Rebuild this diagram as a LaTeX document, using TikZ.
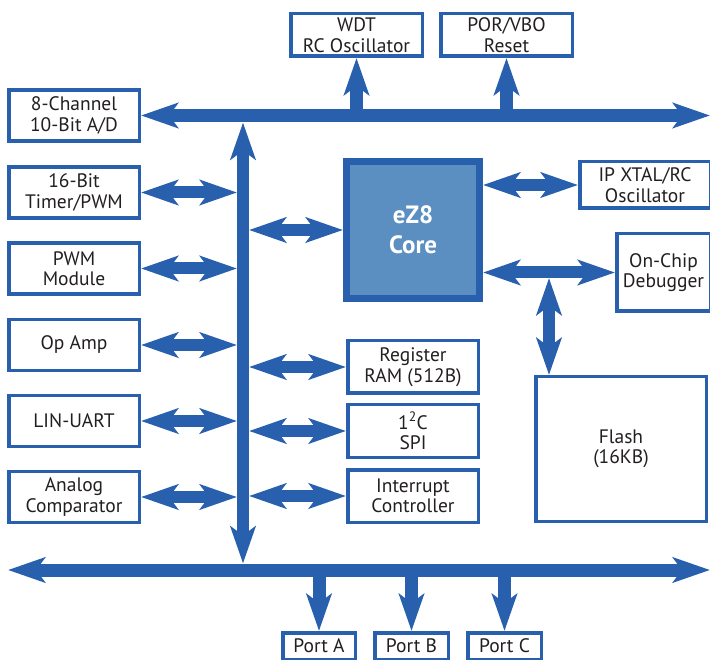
\documentclass[tikz,border=0pt]{standalone}
\usepackage{fontspec}
\setmainfont{PT Sans}
\usetikzlibrary{arrows.meta}
\definecolor{zblue}{RGB}{40,96,174}
\definecolor{corefill}{RGB}{92,143,193}
\definecolor{txt}{RGB}{35,31,32}

\begin{document}
\begin{tikzpicture}[
    x=1pt,y=-1pt,
    every node/.style={font=\fontsize{19.5}{20.5}\selectfont,text=txt},
    blk/.style={draw=zblue,line width=3.5pt,fill=white,align=center,inner sep=0pt,
                minimum width=130.5pt,minimum height=51pt},
    bus/.style={zblue,line width=13pt},
    link/.style={zblue,line width=12pt},
    >={Stealth[length=37pt,width=25pt,inset=9pt]},
]
\useasboundingbox (0,0) rectangle (710,660);
\clip (0,0) rectangle (710,660);

% Peripherals on the left
\node[blk] (ad)    at (74,115.5) {8-Channel\\10-Bit A/D};
\node[blk] (timer) at (74,192.5) {16-Bit\\Timer/PWM};
\node[blk] (pwm)   at (74,268.5) {PWM\\Module};
\node[blk] (opamp) at (74,345)   {Op Amp};
\node[blk] (uart)  at (74,421)   {LIN-UART};
\node[blk] (comp)  at (74,497)   {Analog\\Comparator};

% Top row
\node[blk,minimum width=131.5pt,minimum height=42.5pt] (wdt) at (356.5,35) {WDT\\RC Oscillator};
\node[blk,minimum width=131.5pt,minimum height=42.5pt] (por) at (506.5,35) {POR/VBO\\Reset};

% Core and its neighbours
\node[draw=zblue,line width=7pt,fill=corefill,minimum width=133pt,minimum height=137pt,
      align=center,text=white,font=\fontsize{25}{30}\selectfont\bfseries] (core) at (413,230) {eZ8\\Core};
\node[blk,minimum height=52.5pt] (ram)  at (413,367) {Register\\RAM (512B)};
\node[blk,minimum height=52.5pt] (iic)  at (413,431) {1\textsuperscript{2}C\\SPI};
\node[blk,minimum height=52.5pt] (intc) at (413,496) {Interrupt\\Controller};

% Right column (cut by the page edge)
\node[blk,minimum height=46.5pt] (xtal) at (645,185) {IP XTAL/RC\\Oscillator};
\node[blk,minimum width=93.5pt,minimum height=77.5pt] (ocd) at (663.5,272.5) {On-Chip\\Debugger};
\node[blk,minimum width=170.5pt,minimum height=144.5pt] (flash) at (621,449) {Flash\\(16KB)};

% Ports
\node[blk,minimum width=72.5pt,minimum height=26.5pt] (porta) at (319,646)   {Port A};
\node[blk,minimum width=73.5pt,minimum height=26.5pt] (portb) at (411.5,646) {Port B};
\node[blk,minimum width=73.5pt,minimum height=26.5pt] (portc) at (504.5,646) {Port C};

% Bus end points
\coordinate (tbR) at (710,116);
\coordinate (bbL) at (8,570);
\coordinate (bbR) at (710,570);
\coordinate (vbT) at (243,122.5);
\coordinate (vbB) at (243,563.5);
\coordinate (vbL) at (237,0);
\coordinate (vbR) at (249,0);
\coordinate (ftap) at (549,278);

% --- Buses
\draw[bus,<->] (ad.east) -- (ad.east -| tbR);
\draw[bus,<->] (bbL) -- (bbR);
\draw[link,<->] (vbT) -- (vbB);
\draw[bus,->] (wdt.south |- tbR) -- (wdt.south);
\draw[bus,->] (por.south |- tbR) -- (por.south);
\draw[bus,->] (porta.north |- bbL) -- (porta.north);
\draw[bus,->] (portb.north |- bbL) -- (portb.north);
\draw[bus,->] (portc.north |- bbL) -- (portc.north);

% --- Left links
\foreach \n in {timer,pwm,opamp,uart,comp}
  \draw[link,<->] (\n.east) -- (\n.east -| vbL);

% --- Right links
\foreach \n in {core,ram,iic,intc}
  \draw[link,<->] (\n.west -| vbR) -- (\n.west);
\draw[link,<->] (core.east |- xtal.west) -- (xtal.west);
\draw[link,<->] (core.east |- ocd.west) -- (ocd.west);
\draw[link,<->] (ftap) -- (ftap |- flash.north);
\end{tikzpicture}
\end{document}
